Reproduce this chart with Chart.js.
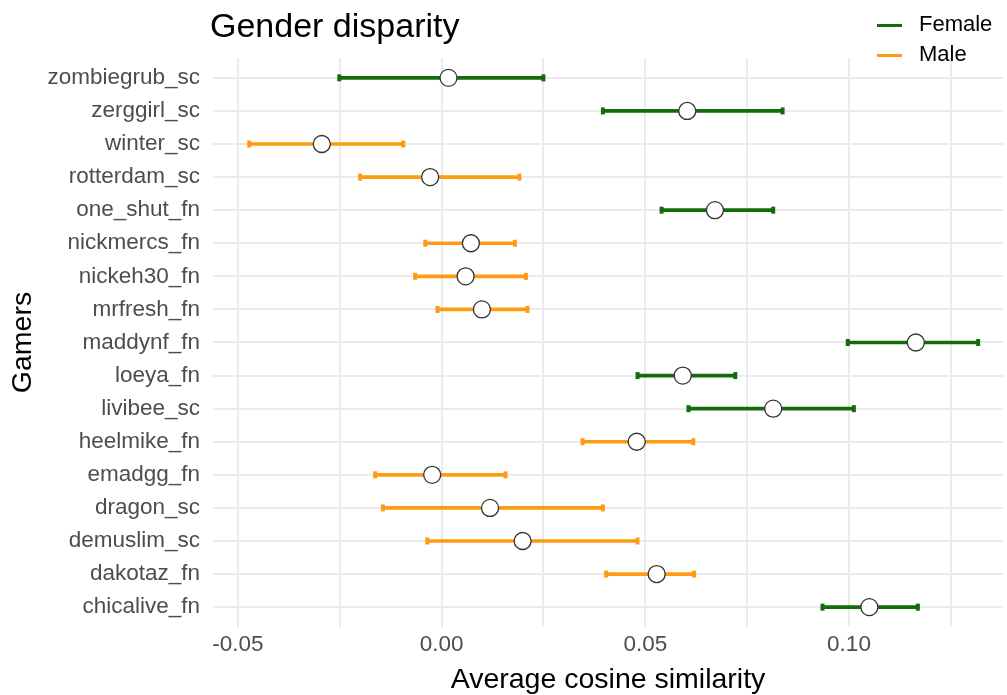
<!DOCTYPE html>
<html>
<head>
<meta charset="utf-8">
<title>Gender disparity</title>
<script src="https://cdn.jsdelivr.net/npm/chart.js@4.4.1/dist/chart.umd.min.js"></script>
<style>
  body { margin: 0; background: #fff; font-family: "Liberation Sans", Arial, sans-serif; }
  #wrap { position: relative; width: 1007px; height: 695px; }
  #chart { display: block; }
  #title { position: absolute; left: 210px; top: 8px; font-size: 34px; line-height: 34px; color: #000; }
  .key { position: absolute; left: 877px; font-size: 22px; line-height: 24px; color: #000; }
  .key span { display: inline-block; width: 25px; height: 3px; vertical-align: middle; margin-right: 17px; }
</style>
</head>
<body>
<div id="wrap">
  <canvas id="chart" width="1007" height="695"></canvas>
  <div id="title">Gender disparity</div>
  <div class="key" style="top:12px"><span style="background:#136b0c"></span>Female</div>
  <div class="key" style="top:42px"><span style="background:#ff9a14"></span>Male</div>
</div>
<script>
const gamers = ['zombiegrub_sc', 'zerggirl_sc', 'winter_sc', 'rotterdam_sc', 'one_shut_fn',
  'nickmercs_fn', 'nickeh30_fn', 'mrfresh_fn', 'maddynf_fn', 'loeya_fn', 'livibee_sc',
  'heelmike_fn', 'emadgg_fn', 'dragon_sc', 'demuslim_sc', 'dakotaz_fn', 'chicalive_fn'];
const gender = ['Female', 'Female', 'Male', 'Male', 'Female', 'Male', 'Male', 'Male', 'Female',
  'Female', 'Female', 'Male', 'Male', 'Male', 'Male', 'Male', 'Female'];
const meanSim = [0.0017, 0.0603, -0.0294, -0.0028, 0.0671, 0.0072, 0.0059, 0.0099, 0.1164,
  0.0592, 0.0814, 0.0479, -0.0023, 0.0119, 0.0199, 0.0528, 0.1050];
const lowerCI = [-0.0251, 0.0396, -0.0472, -0.0200, 0.0540, -0.0040, -0.0065, -0.0010, 0.0997,
  0.0481, 0.0606, 0.0346, -0.0163, -0.0144, -0.0035, 0.0404, 0.0935];
const upperCI = [0.0250, 0.0837, -0.0094, 0.0191, 0.0814, 0.0180, 0.0207, 0.0211, 0.1317,
  0.0721, 0.1012, 0.0618, 0.0157, 0.0396, 0.0481, 0.0620, 0.1169];
const xMajorTicks = [-0.05, 0, 0.05, 0.10];
const xTickLabels = ['-0.05', '0.00', '0.05', '0.10'];
const xMinorTicks = [-0.025, 0.025, 0.075, 0.125];

const colors = { Female: '#136b0c', Male: '#ff9a14' };
const font = '"Liberation Sans", Arial, sans-serif';

const rows = gamers.map((g, i) => i);
const datasets = [];

// white dots for the mean, drawn on top
datasets.push({
  type: 'scatter',
  order: 0,
  data: rows.map(i => ({ x: meanSim[i], y: i })),
  pointRadius: 8.5,
  pointBackgroundColor: '#ffffff',
  pointBorderColor: '#333333',
  pointBorderWidth: 1.3
});

['Female', 'Male'].forEach(g => {
  const mine = rows.filter(i => gender[i] === g);
  // interval as a thin floating bar
  datasets.push({
    type: 'bar',
    label: g,
    order: 2,
    indexAxis: 'y',
    grouped: false,
    barThickness: 3,
    backgroundColor: colors[g],
    data: mine.map(i => ({ y: i, x: [lowerCI[i], upperCI[i]] }))
  });
  // small end caps
  datasets.push({
    type: 'scatter',
    order: 1,
    data: mine.flatMap(i => [{ x: lowerCI[i], y: i }, { x: upperCI[i], y: i }]),
    pointStyle: 'line',
    rotation: 90,
    pointRadius: 3.5,
    pointBorderColor: colors[g],
    pointBorderWidth: 4
  });
});

new Chart(document.getElementById('chart'), {
  type: 'scatter',
  data: { datasets },
  options: {
    responsive: false,
    animation: false,
    layout: { autoPadding: false, padding: { top: 58, right: 4, left: 0, bottom: 0 } },
    plugins: { legend: { display: false }, tooltip: { enabled: false } },
    scales: {
      x: {
        type: 'linear',
        min: -0.0561,
        max: 0.1378,
        afterBuildTicks: s => {
          s.ticks = [...xMajorTicks, ...xMinorTicks].sort((a, b) => a - b).map(v => ({ value: v }));
        },
        afterFit: s => {
          s.height = 68;
          s.paddingLeft = 0;
          s.paddingRight = 0;
        },
        ticks: {
          autoSkip: false,
          maxRotation: 0,
          padding: 4,
          color: '#4d4d4d',
          font: { family: font, size: 22.5 },
          callback: v => {
            const k = xMajorTicks.findIndex(t => Math.abs(t - v) < 1e-9);
            return k >= 0 ? xTickLabels[k] : '';
          }
        },
        grid: { color: '#ebebeb', lineWidth: 2, drawTicks: false },
        border: { display: false },
        title: {
          display: true,
          text: 'Average cosine similarity',
          color: '#000',
          font: { family: font, size: 28.5 },
          padding: { top: 0, bottom: -2 }
        }
      },
      y: {
        type: 'linear',
        reverse: true,
        offset: false,
        min: -0.6,
        max: 16.6,
        afterBuildTicks: s => { s.ticks = rows.map(i => ({ value: i })); },
        afterFit: s => {
          s.width = 213;
          s.paddingTop = 0;
          s.paddingBottom = 0;
        },
        ticks: {
          autoSkip: false,
          padding: 13,
          color: '#4d4d4d',
          font: { family: font, size: 22.5 },
          callback: v => gamers[v]
        },
        grid: { color: '#ebebeb', lineWidth: 2, drawTicks: false, offset: false },
        border: { display: false },
        title: {
          display: true,
          text: 'Gamers',
          color: '#000',
          font: { family: font, size: 28.5 },
          padding: { top: 6, bottom: 0 }
        }
      }
    }
  }
});
</script>
</body>
</html>
